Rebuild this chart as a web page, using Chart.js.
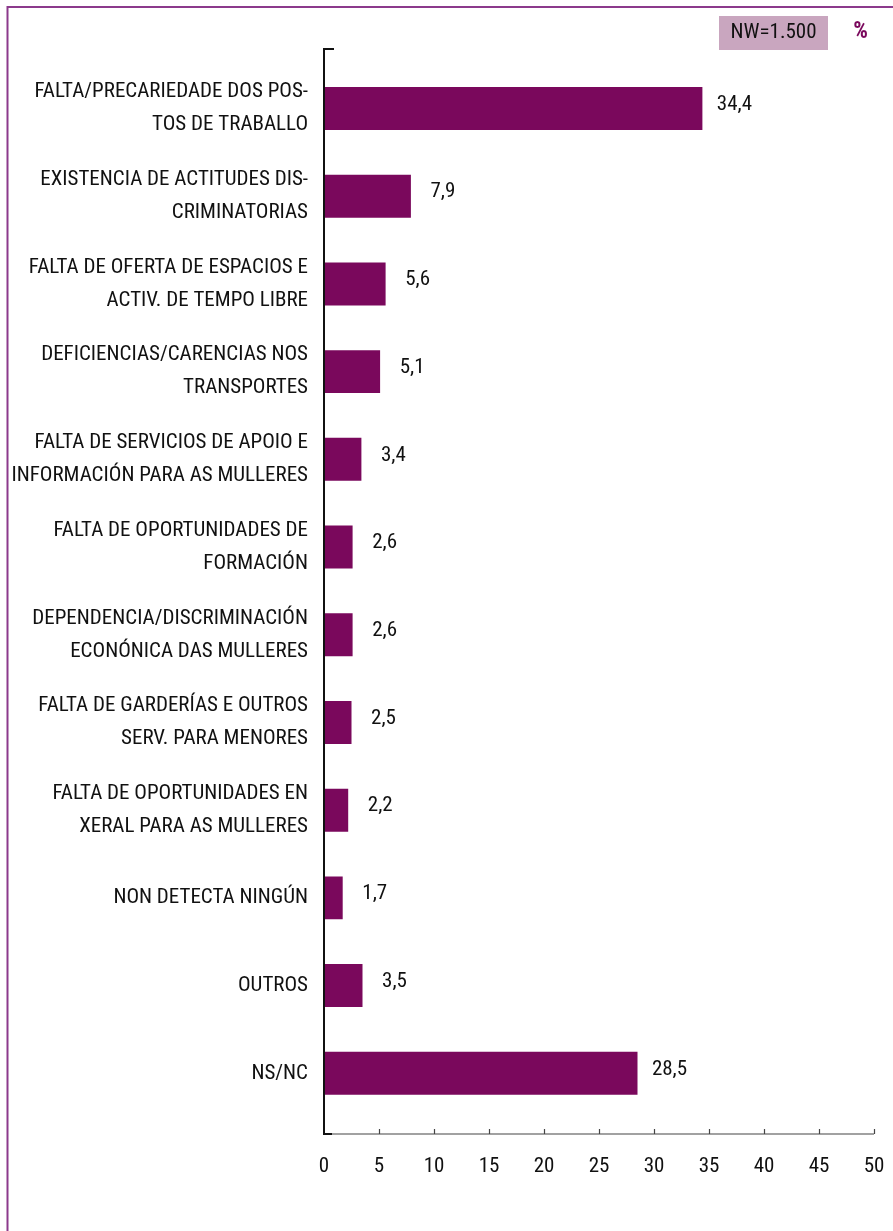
<!DOCTYPE html>
<html>
<head>
<meta charset="utf-8">
<script src="https://cdn.jsdelivr.net/npm/chart.js@4/dist/chart.umd.min.js"></script>
<style>
  html, body { margin: 0; padding: 0; background: #fff; }
  canvas { display: block; }
</style>
</head>
<body>
<canvas id="barChart" width="893" height="1231"></canvas>
<script>
// chart data
let categories = [
    ["FALTA/PRECARIEDADE DOS POS-", "TOS DE TRABALLO"],
    ["EXISTENCIA DE ACTITUDES DIS-", "CRIMINATORIAS"],
    ["FALTA DE OFERTA DE ESPACIOS E", "ACTIV. DE TEMPO LIBRE"],
    ["DEFICIENCIAS/CARENCIAS NOS", "TRANSPORTES"],
    ["FALTA DE SERVICIOS DE APOIO E", "INFORMACIÓN PARA AS MULLERES"],
    ["FALTA DE OPORTUNIDADES DE", "FORMACIÓN"],
    ["DEPENDENCIA/DISCRIMINACIÓN", "ECONÓNICA DAS MULLERES"],
    ["FALTA DE GARDERÍAS E OUTROS", "SERV. PARA MENORES"],
    ["FALTA DE OPORTUNIDADES EN", "XERAL PARA AS MULLERES"],
    "NON DETECTA NINGÚN",
    "OUTROS",
    "NS/NC"
];
let values = [34.4, 7.9, 5.6, 5.1, 3.4, 2.6, 2.6, 2.5, 2.2, 1.7, 3.5, 28.5];
let xMin = 0;
let xMax = 50;
let xStep = 5;
let sampleNote = "NW=1.500";
let unitNote = "%";

let barColor = "#7a085c";
let frameColor = "#8c3a8c";
let fontName = "'Roboto Condensed', 'Liberation Sans Narrow', sans-serif";

function fmt(v) {
    return v.toFixed(1).replace(".", ",");
}

// frame, axes, value labels and the NW box
const decorations = {
    id: "decorations",
    afterDatasetsDraw(chart) {
        const ctx = chart.ctx;
        const meta = chart.getDatasetMeta(0);
        ctx.save();
        ctx.fillStyle = "#111";
        ctx.font = "21px " + fontName;
        ctx.textAlign = "center";
        ctx.textBaseline = "middle";
        meta.data.forEach((bar, i) => {
            ctx.fillText(fmt(values[i]), bar.x + 32, bar.y - 4);
        });
        ctx.restore();
    },
    afterDraw(chart) {
        const ctx = chart.ctx;
        const x = chart.scales.x;
        const axisX = x.getPixelForValue(xMin);
        const axisY = 1134;
        const topY = 49;
        ctx.save();

        // purple frame (left and top)
        ctx.strokeStyle = frameColor;
        ctx.lineWidth = 2;
        ctx.beginPath();
        ctx.moveTo(7.5, 1231);
        ctx.lineTo(7.5, 7);
        ctx.lineTo(893, 7);
        ctx.stroke();

        // x axis
        ctx.strokeStyle = "#444";
        ctx.lineWidth = 1.2;
        ctx.beginPath();
        ctx.moveTo(axisX, axisY);
        ctx.lineTo(x.getPixelForValue(xMax), axisY);
        for (let v = xMin + xStep; v <= xMax; v += xStep) {
            let px = Math.round(x.getPixelForValue(v)) + 0.5;
            ctx.moveTo(px, axisY);
            ctx.lineTo(px, axisY - 5);
        }
        ctx.stroke();

        // y axis with small stubs
        ctx.strokeStyle = "#111";
        ctx.lineWidth = 2;
        ctx.beginPath();
        ctx.moveTo(axisX + 10, topY);
        ctx.lineTo(axisX, topY);
        ctx.lineTo(axisX, axisY);
        ctx.lineTo(axisX + 8, axisY);
        ctx.stroke();

        // NW box
        ctx.fillStyle = "#c9a6bf";
        ctx.fillRect(719, 16, 109, 34);
        ctx.fillStyle = "#111";
        ctx.font = "21px " + fontName;
        ctx.textAlign = "center";
        ctx.textBaseline = "middle";
        ctx.fillText(sampleNote, 773.5, 33);

        ctx.fillStyle = barColor;
        ctx.font = "bold 23px " + fontName;
        ctx.fillText(unitNote, 860.5, 32);
        ctx.restore();
    }
};

let ctx = document.getElementById("barChart").getContext("2d");

let chart = new Chart(ctx, {
    type: "bar",
    data: {
        labels: categories,
        datasets: [{
            data: values,
            backgroundColor: barColor,
            borderWidth: 0,
            categoryPercentage: 1,
            barPercentage: 0.49
        }]
    },
    options: {
        indexAxis: "y",
        responsive: false,
        animation: false,
        devicePixelRatio: 1,
        layout: {
            padding: { top: 64.65, right: 19, bottom: 0, left: 0 }
        },
        plugins: {
            legend: { display: false },
            tooltip: { enabled: false }
        },
        scales: {
            x: {
                min: xMin,
                max: xMax,
                grid: { display: false, drawTicks: false },
                border: { display: false },
                ticks: {
                    stepSize: xStep,
                    color: "#111",
                    padding: 37,
                    maxRotation: 0,
                    font: { family: fontName, size: 21 }
                },
                afterFit(scale) {
                    scale.height = 1231 - 1117.15;
                    scale.paddingLeft = 0;
                    scale.paddingRight = 0;
                }
            },
            y: {
                grid: { display: false, drawTicks: false },
                border: { display: false },
                ticks: {
                    color: "#111",
                    padding: 16,
                    autoSkip: false,
                    font: { family: fontName, size: 21, lineHeight: "33px" }
                },
                afterFit(scale) {
                    scale.width = 324;
                }
            }
        }
    },
    plugins: [decorations]
});
</script>
</body>
</html>
